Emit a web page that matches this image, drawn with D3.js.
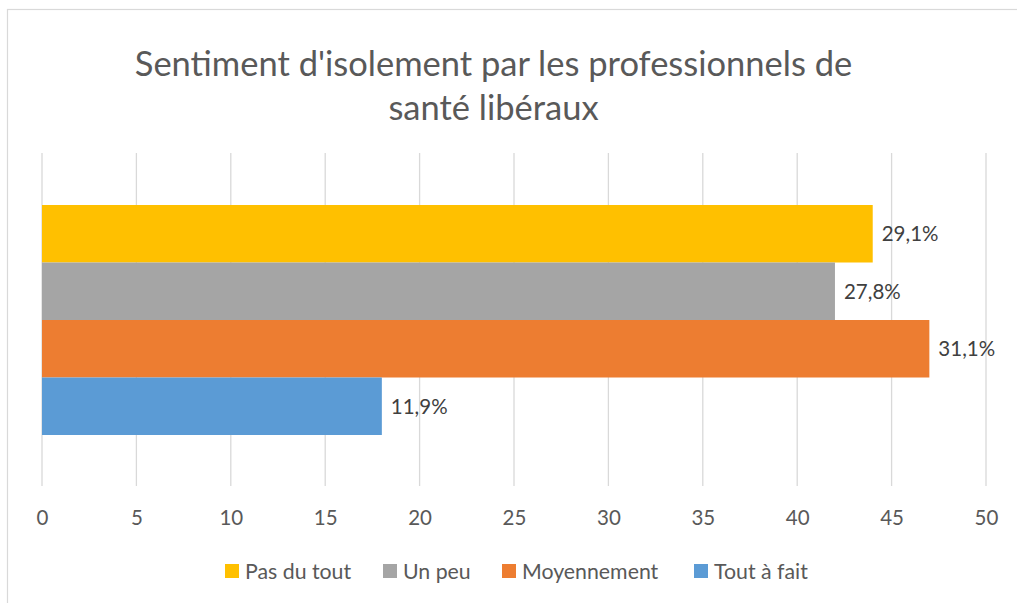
<!DOCTYPE html>
<html><head><meta charset="utf-8">
<script src="https://cdn.jsdelivr.net/npm/d3@7"></script>
<style>body{margin:0;background:#fff;}svg{display:block;font-family:Lato,"Open Sans",sans-serif;}</style>
</head><body><svg id="c" width="1017" height="603"></svg>
<script>
const titleLines = ["Sentiment d'isolement par les professionnels de", "santé libéraux"];
const series = ["Pas du tout", "Un peu", "Moyennement", "Tout à fait"];
const values = [44, 42, 47, 18];
const labels = ["29,1%", "27,8%", "31,1%", "11,9%"];
const colors = ["#FFC000", "#A5A5A5", "#ED7D31", "#5B9BD5"];
const ticks = [0, 5, 10, 15, 20, 25, 30, 35, 40, 45, 50];

const svg = d3.select("#c");
svg.append("rect").attr("x", 7.5).attr("y", 9.5).attr("width", 1030).attr("height", 620)
  .attr("fill", "#fff").attr("stroke", "#D9D9D9").attr("stroke-width", 1.2);

const x = d3.scaleLinear().domain([0, 50]).range([42, 986]);
const plotTop = 153, plotBottom = 486;
const y = d3.scaleBand().domain(series).range([205, 435]);

// gridlines
svg.append("g").selectAll("line").data(ticks).join("line")
  .attr("x1", d => x(d)).attr("x2", d => x(d)).attr("y1", plotTop).attr("y2", plotBottom)
  .attr("stroke", "#D9D9D9").attr("stroke-width", 1.3);

// bars
svg.append("g").selectAll("rect").data(series).join("rect")
  .attr("x", x(0)).attr("y", d => y(d)).attr("width", (d, i) => x(values[i]) - x(0))
  .attr("height", y.bandwidth()).attr("fill", (d, i) => colors[i]);

// data labels
svg.append("g").selectAll("text").data(series).join("text")
  .attr("x", (d, i) => x(values[i]) + 9).attr("y", d => y(d) + y.bandwidth() / 2)
  .attr("dy", "0.36em").attr("fill", "#404040").attr("font-size", 20.5)
  .text((d, i) => labels[i]);

// x axis
const ax = svg.append("g").attr("transform", `translate(0,${plotBottom})`)
  .call(d3.axisBottom(x).tickValues(ticks).tickSize(0).tickPadding(24).tickFormat(d3.format("d")));
ax.select(".domain").remove();
ax.selectAll("text").attr("fill", "#595959").attr("font-size", 20.5).attr("font-family", "Lato, 'Open Sans', sans-serif");

// title
svg.append("g").selectAll("text").data(titleLines).join("text")
  .attr("x", 493.5).attr("y", (d, i) => 76 + i * 44).attr("text-anchor", "middle")
  .attr("fill", "#595959").attr("font-size", 34.5).text(d => d);

// legend
const legX = [225, 383, 502, 694];
const lg = svg.append("g").selectAll("g").data(series).join("g")
  .attr("transform", (d, i) => `translate(${legX[i]},564)`);
lg.append("rect").attr("width", 14).attr("height", 14).attr("fill", (d, i) => colors[i]);
lg.append("text").attr("x", 20).attr("y", 14.5).attr("fill", "#595959")
  .attr("font-size", 21.3).text(d => d);
</script></body></html>
